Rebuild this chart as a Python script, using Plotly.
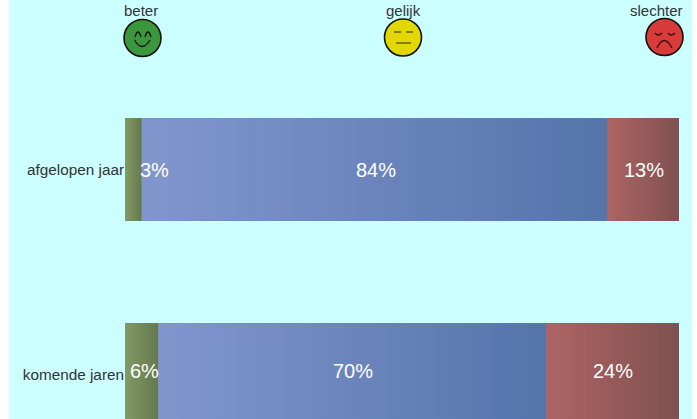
import plotly.graph_objects as go

# ---- data ----
categories = ["afgelopen jaar", "komende jaren"]
series_names = ["beter", "gelijk", "slechter"]
beter = [3, 6]
gelijk = [84, 70]
slechter = [13, 24]
series_values = [beter, gelijk, slechter]
gradients = [("#829A64", "#64784E"), ("#8296CE", "#5474AA"), ("#AE6464", "#805050")]
solid = ["#73895A", "#6B85BC", "#975A5A"]
label_xshift = [[21.5, 2, 1.5], [2.5, 0.5, 0.5]]
label_yshift = [0, 4]

W, H = 697, 419
L, R = 125, 679
BG = "#CCFFFF"
TXT = "#333333"

def px(x):
    return (x - L) / (R - L)

def py(y):
    return 1 - y / H

fig = go.Figure()

# real stacked bars (underlay)
for name, vals, c in zip(series_names, series_values, solid):
    fig.add_trace(go.Bar(y=[0, 1], x=vals, name=name, orientation="h",
                         width=0.5, marker=dict(color=c, line=dict(width=0)),
                         showlegend=False, hoverinfo="skip"))

# gradient fills on the same scales, derived from the values
for i, cat in enumerate(categories):
    start = 0
    for s, (vals, (c0, c1)) in enumerate(zip(series_values, gradients)):
        end = start + vals[i]
        fig.add_trace(go.Scatter(
            x=[start, end, end, start, start],
            y=[i - 0.25, i - 0.25, i + 0.25, i + 0.25, i - 0.25],
            mode="lines", line=dict(width=0), fill="toself",
            fillgradient=dict(type="horizontal", colorscale=[[0, c0], [1, c1]]),
            showlegend=False, hoverinfo="skip"))
        mid = start + vals[i] / 2
        fig.add_annotation(x=mid, y=i, xref="x", yref="y", text=f"{vals[i]}%",
                           xshift=label_xshift[i][s], yshift=label_yshift[i],
                           xanchor="center", yanchor="middle", showarrow=False,
                           font=dict(family="Liberation Sans", size=20, color="white"))
        start = end

shapes = [dict(type="rect", xref="paper", yref="paper", x0=px(9), x1=px(692),
               y0=0, y1=1, fillcolor=BG, line=dict(width=0), layer="below")]

def circle(cx, cy, r, fill):
    shapes.append(dict(type="circle", xref="paper", yref="paper",
                       x0=px(cx - r), x1=px(cx + r), y0=py(cy + r), y1=py(cy - r),
                       fillcolor=fill, line=dict(color="#111111", width=1.6)))

def curve(x0, y0, xc, yc, x1, y1, color="#111111", w=1.3):
    path = f"M {px(x0)} {py(y0)} Q {px(xc)} {py(yc)} {px(x1)} {py(y1)}"
    shapes.append(dict(type="path", xref="paper", yref="paper", path=path,
                       line=dict(color=color, width=w)))

# smiling face
circle(142.5, 38, 18.5, "#3C963C")
curve(135, 37, 138, 27, 141, 37)
curve(145, 37, 148, 27, 151, 37)
curve(134.5, 40, 142, 53, 150, 40)
# neutral face
circle(403, 37.5, 18.5, "#E2D800")
curve(394, 32, 398, 32, 401, 32, "#554c00")
curve(406, 32, 410, 32, 413, 32, "#554c00")
curve(396, 43, 403, 43, 411, 43, "#554c00")
# sad face
circle(664.5, 37, 18.5, "#D93A3A")
curve(655, 33, 658, 37, 662, 33, "#3a1010")
curve(668, 33, 671, 37, 675, 33, "#3a1010")
curve(657, 48, 664, 33, 672, 48, "#3a1010")

for label, cx in zip(series_names, [140.5, 403, 656.5]):
    fig.add_annotation(x=px(cx), y=py(10), xref="paper", yref="paper", text=label,
                       xanchor="center", yanchor="middle", showarrow=False,
                       font=dict(family="Liberation Sans", size=15, color=TXT))

fig.update_layout(
    width=W, height=H, barmode="stack", bargap=0.5,
    margin=dict(l=L, r=W - R, t=0, b=0, pad=0),
    paper_bgcolor="white", plot_bgcolor=BG, shapes=shapes, showlegend=False,
    xaxis=dict(range=[0, 100], visible=False, fixedrange=True),
    yaxis=dict(range=[(H - 169.5) / 205, -169.5 / 205], type="linear", tickmode="array",
               tickvals=[0, 1], ticktext=categories, showgrid=False, zeroline=False,
               showline=False, ticks="", ticklen=0, fixedrange=True,
               tickfont=dict(family="Liberation Sans", size=15.3, color=TXT)),
)

fig.write_html("out.html", config={"displayModeBar": False},
               post_script="document.body.style.margin='0';document.body.style.overflow='hidden';")
